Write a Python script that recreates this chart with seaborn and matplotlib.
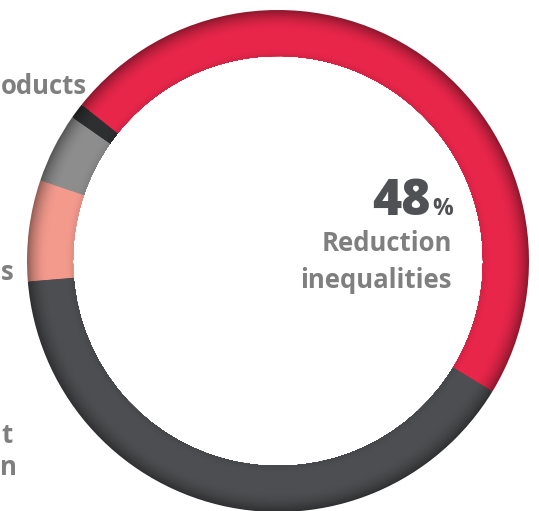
import numpy as np
import matplotlib
matplotlib.use("Agg")
import matplotlib.pyplot as plt
import seaborn as sns
from matplotlib.colors import to_rgb

# ---- data ----
categories = ["Reduction inequalities", "…oducts", "…oducts (2)", "…s", "…t …n"]
shares = [48, 1, 4.5, 6.5, 40]
seg_colors = ["#e8264a", "#2e2f31", "#8e8d8d", "#f39a8d", "#4d4e51"]
center_value = "48"
center_lines = ["Reduction", "inequalities"]
left_labels = ["oducts", "s", "t", "n"]

sns.set_theme(style="white")
plt.rcParams["font.family"] = ["Open Sans", "DejaVu Sans"]

W, H = 539, 511
fig = plt.figure(figsize=(W / 100, H / 100), dpi=100)
ax = fig.add_axes([0, 0, 1, 1])

cx, cy = 278, H - 261
R_out, R_in = 251, 205

def shade(t):
    s = 1.0
    if t > 0.55:
        s -= 0.38 * ((t - 0.55) / 0.45) ** 2
    if t < 0.2:
        s -= 0.10 * ((0.2 - t) / 0.2) ** 2
    return s

n_layers = 40
radii = np.linspace(R_out, R_in + 1, n_layers)
for r in radii:
    t = (r - R_in) / (R_out - R_in)
    s = shade(t)
    cols = [tuple(np.clip(np.array(to_rgb(c)) * s, 0, 1)) for c in seg_colors]
    ax.pie(shares, colors=cols, radius=r, center=(cx, cy),
           startangle=-31.3, counterclock=True,
           wedgeprops=dict(width=r - R_in, edgecolor="none", linewidth=0))

ax.set_xlim(0, W)
ax.set_ylim(0, H)
ax.set_aspect("equal")
ax.axis("off")

dark = "#505154"
grey = "#7f7f7f"
lab_fs = 18.5
ax.text(431, H - 215, center_value, ha="right", va="baseline",
        fontsize=36, fontweight="heavy", color=dark)
ax.text(432, H - 215, "%", ha="left", va="baseline",
        fontsize=16.5, fontweight="bold", color=dark)
ax.text(452, H - 251, center_lines[0], ha="right", va="baseline",
        fontsize=lab_fs, fontweight="bold", color=grey)
ax.text(452, H - 288, center_lines[1], ha="right", va="baseline",
        fontsize=lab_fs, fontweight="bold", color=grey)

ax.text(1, H - 94, left_labels[0], ha="left", va="baseline",
        fontsize=lab_fs, fontweight="bold", color=grey)
ax.text(0.5, H - 280, left_labels[1], ha="left", va="baseline",
        fontsize=lab_fs, fontweight="bold", color=grey)
ax.text(1, H - 443, left_labels[2], ha="left", va="baseline",
        fontsize=lab_fs, fontweight="bold", color=grey)
ax.text(0.5, H - 475, left_labels[3], ha="left", va="baseline",
        fontsize=lab_fs, fontweight="bold", color=grey)

fig.savefig("out.png", dpi=100)
